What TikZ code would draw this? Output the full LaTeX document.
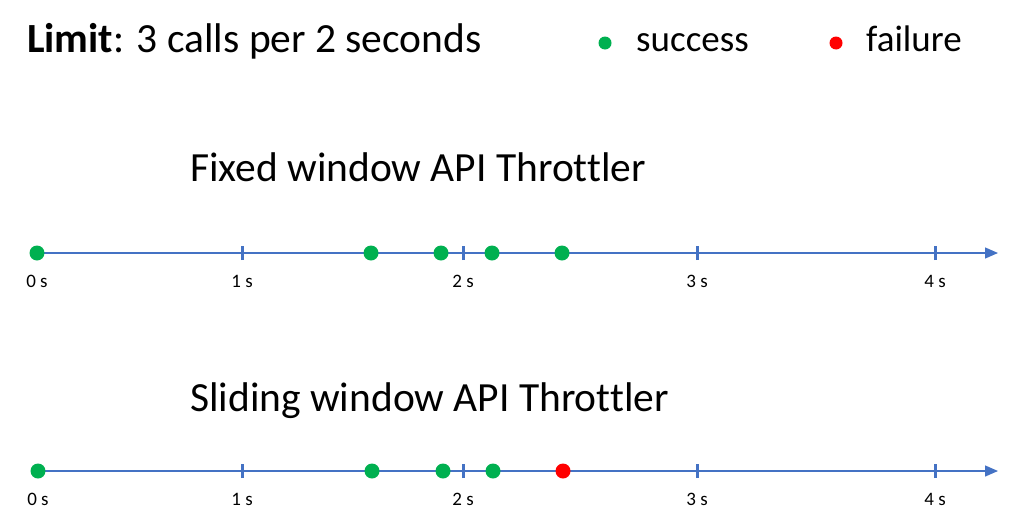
\documentclass[tikz,border=0pt]{standalone}
\usepackage{fontspec}
\setmainfont{Carlito}[Ligatures=NoCommon]
\usetikzlibrary{arrows.meta}
\definecolor{okgreen}{HTML}{00B050}
\definecolor{badred}{HTML}{FF0000}
\definecolor{axisblue}{HTML}{4472C4}
\tikzset{
  bigtext/.style={inner sep=0pt, anchor=base west, font=\fontsize{41.5}{48}\selectfont},
  legendtext/.style={inner sep=0pt, anchor=base west, font=\fontsize{37}{44}\selectfont},
  ticklabel/.style={inner sep=0pt, anchor=base, font=\fontsize{19}{22}\selectfont},
  axisline/.style={draw=axisblue, line width=1.3pt, -{Triangle[length=13pt,width=11pt]}},
  tickmark/.style={draw=axisblue, line width=3pt},
  okdot/.style={circle, fill=okgreen, inner sep=0pt, minimum size=15pt},
  baddot/.style={circle, fill=badred, inner sep=0pt, minimum size=15pt},
  legdot/.style={circle, inner sep=0pt, minimum size=13pt},
}
\begin{document}
\begin{tikzpicture}[x=1pt, y=-1pt]
\useasboundingbox (0,0) rectangle (1012,525);
% header
\node[bigtext] (limit) at (27,52) {\textbf{Limit}: 3 calls per 2 seconds};
\node[legdot, fill=okgreen] (lgok) at (605,43) {};
\node[legendtext] (lgoktxt) at (636,51) {success};
\node[legdot, fill=badred] (lgbad) at (836,43) {};
\node[legendtext] (lgbadtxt) at (866,51) {failure};
% titles
\node[bigtext] (fixedtitle) at (190,181) {Fixed window API Throttler};
\node[bigtext] (slidetitle) at (190,411) {Sliding window API Throttler};
% fixed axis
\coordinate (fa) at (37,253);
\coordinate (fb) at (998,253);
\draw[axisline] (fa) -- (fb);
\foreach \x/\l in {242/1,463/2,697/3,935/4}{
  \coordinate (ft\l) at (\x,253);
  \draw[tickmark] ([yshift=-7pt]ft\l) -- ([yshift=7pt]ft\l);
  \node[ticklabel] (fl\l) at (\x,287) {\l\ s};
}
\node[ticklabel] (fl0) at (37,287) {0 s};
\node[okdot] (f1) at (37,253) {};
\node[okdot] (f2) at (371,253) {};
\node[okdot] (f3) at (441,253) {};
\node[okdot] (f4) at (492,253) {};
\node[okdot] (f5) at (562,253) {};
% sliding axis
\coordinate (sa) at (38,471);
\coordinate (sb) at (998,471);
\draw[axisline] (sa) -- (sb);
\foreach \x/\l in {242/1,463/2,697/3,935/4}{
  \coordinate (st\l) at (\x,471);
  \draw[tickmark] ([yshift=-7pt]st\l) -- ([yshift=7pt]st\l);
  \node[ticklabel] (sl\l) at (\x,505) {\l\ s};
}
\node[ticklabel] (sl0) at (38,505) {0 s};
\node[okdot] (s1) at (38,471) {};
\node[okdot] (s2) at (372,471) {};
\node[okdot] (s3) at (443,471) {};
\node[okdot] (s4) at (493,471) {};
\node[baddot] (s5) at (563,471) {};
\end{tikzpicture}
\end{document}
